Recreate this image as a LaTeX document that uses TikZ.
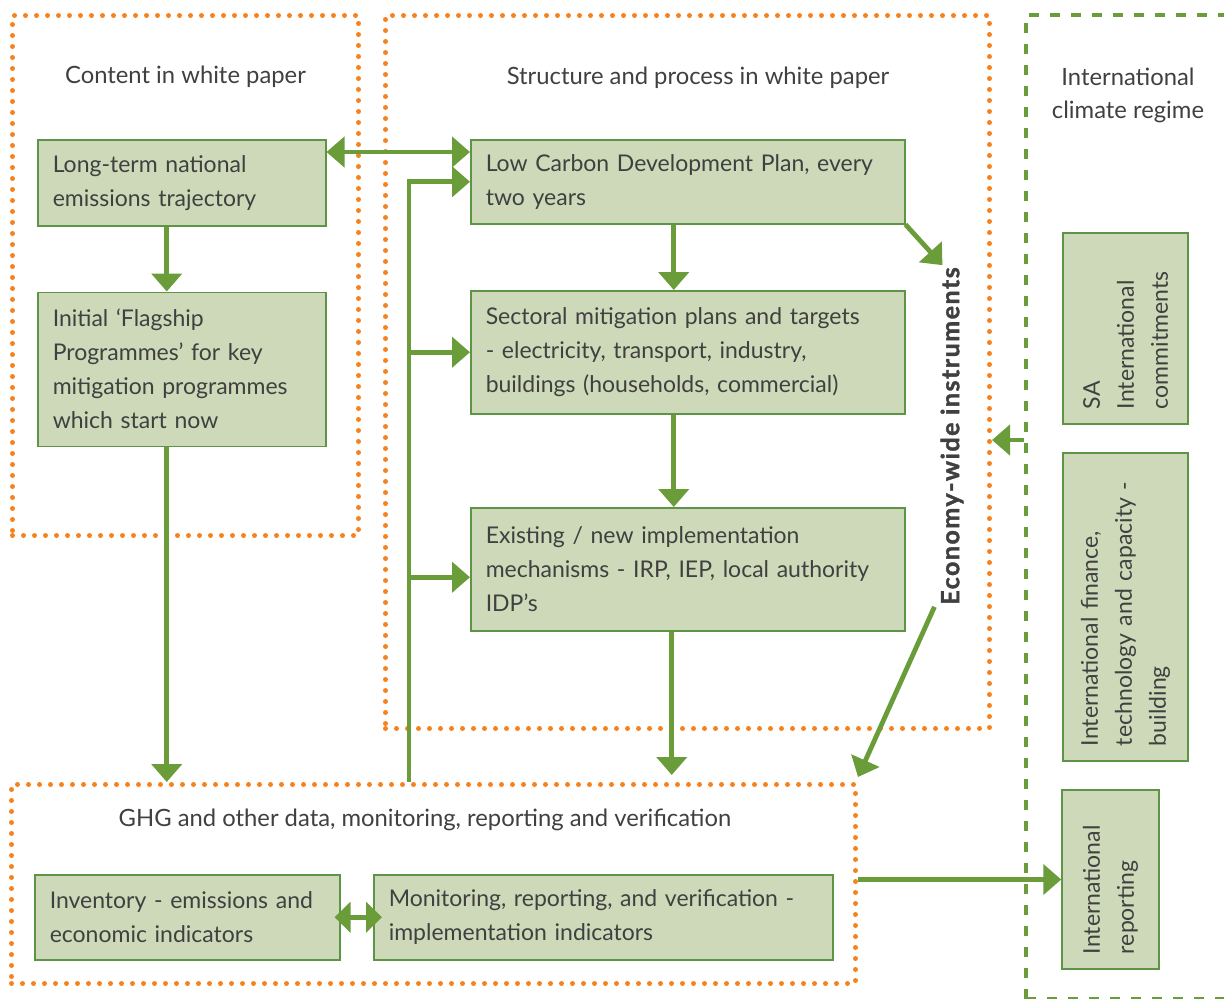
\documentclass[tikz,border=0pt]{standalone}
\usepackage{fontspec}
\setmainfont{Lato}
\usetikzlibrary{arrows.meta,positioning,calc}

\definecolor{flowgreen}{HTML}{6A9C3A}
\definecolor{boxfill}{HTML}{CDD9B8}
\definecolor{boxline}{HTML}{5E9446}
\definecolor{dotorange}{HTML}{F5821F}
\definecolor{ink}{HTML}{404040}

\begin{document}
\begin{tikzpicture}[x=1pt, y=-1pt, node distance=5mm,
    >={Triangle[width=30pt,length=18pt]},
    every node/.style={text=ink, font=\fontsize{23}{34}\selectfont},
    title/.style={font=\fontsize{23.8}{33}\selectfont},
    dotframe/.style={draw=dotorange, line width=5pt, line cap=round, dash pattern=on 0pt off 11pt, anchor=north west, inner sep=0pt},
    gbox/.style={draw=boxline, line width=1.5pt, fill=boxfill, align=left, inner xsep=15pt, inner ysep=0pt},
    flow/.style={draw=flowgreen, line width=4.8pt}]
    \useasboundingbox (0,0) rectangle (1224,999);
    % Frames
    \node[dotframe, minimum width=346pt, minimum height=520pt] (contentframe) at (10,13) {};
    \node[dotframe, minimum width=604pt, minimum height=713pt] (structframe) at (383,13) {};
    \node[dotframe, minimum width=844pt, minimum height=199pt] (ghgframe) at (9,782) {};
    \node[draw=flowgreen, line width=3.5pt, dash pattern=on 10pt off 11pt, anchor=north west, minimum width=260pt, minimum height=984pt] (regime) at (1024,13) {};
    \node[title, below=49pt of contentframe.north] (contenttitle) {Content in white paper};
    \node[title] (structtitle) at (698,78) {Structure and process in white paper};
    \node[title, align=center] (regimetitle) at (1128,95) {International\\climate regime};
    \node[title] (ghgtitle) at (425,820) {GHG and other data, monitoring, reporting and verification};
    % Boxes
    \node[gbox, anchor=north west, text width=258pt, minimum height=86pt] (longterm) at (37,139) {Long-term national\\emissions trajectory};
    \node[gbox, below=65pt of longterm.south west, anchor=north west, text width=258pt, minimum height=154pt] (flagship) {Initial ‘Flagship\\Programmes’ for key\\mitigation programmes\\which start now};
    \node[gbox, anchor=north west, text width=404pt, minimum height=84pt] (lowcarbon) at (470,139) {Low Carbon Development Plan, every\\two years};
    \node[gbox, anchor=north west, text width=404pt, minimum height=123pt] (sectoral) at (470,290) {Sectoral mitigation plans and targets\\- electricity, transport, industry,\\buildings (households, commercial)};
    \node[gbox, anchor=north west, text width=404pt, minimum height=123pt] (existing) at (470,507) {Existing / new implementation\\mechanisms - IRP, IEP, local authority\\IDP’s};
    \node[gbox, anchor=north west, text width=275pt, minimum height=85pt] (inventory) at (34,874) {Inventory - emissions and\\economic indicators};
    \node[gbox, anchor=north west, text width=429pt, minimum height=85pt] (monitoring) at (373,874) {Monitoring, reporting, and verification -\\implementation indicators};
    % International side, read bottom to top
    \node[gbox, rotate=90, text width=161pt, minimum height=125pt] (commitments) at (1125.5,328.5) {SA\\International\\commitments};
    \node[gbox, rotate=90, text width=278pt, minimum height=125pt] (finance) at (1125.5,607) {International finance,\\technology and capacity -\\building};
    \node[gbox, rotate=90, text width=149pt, minimum height=97pt] (reporting) at (1110.5,879.5) {International\\reporting};
    \node[rotate=90, inner sep=2pt, font=\fontsize{25}{30}\selectfont\bfseries\addfontfeature{LetterSpace=6,FakeBold=1.5}] (econ) at (952,436) {Economy-wide instruments};
    % Arrows
    \draw[flow, <->] ([yshift=-13pt]longterm.north east) -- ([yshift=-13pt]lowcarbon.north west);
    \draw[flow, ->] ([xshift=-15pt]longterm.south) -- ([xshift=-15pt]flagship.north);
    \draw[flow, ->] ([xshift=-15pt]flagship.south) -- ([xshift=-15pt]flagship.south |- ghgframe.north);
    \coordinate (spine) at (409,782);
    \draw[flow, ->] (spine) |- (lowcarbon.west);
    \draw[flow, ->] (spine |- sectoral.west) -- (sectoral.west);
    \draw[flow, ->] ([yshift=-8pt]spine |- existing.west) -- ([yshift=-8pt]existing.west);
    \draw[flow, ->] ([xshift=-14pt]lowcarbon.south) -- ([xshift=-14pt]sectoral.north);
    \draw[flow, ->] ([xshift=-14pt]sectoral.south) -- ([xshift=-14pt]existing.north);
    \draw[flow, ->] ([xshift=-16pt]existing.south) -- ([xshift=-16pt,yshift=7pt]existing.south |- ghgframe.north);
    \draw[flow, ->] (lowcarbon.south east) -- ([xshift=4pt]econ.north east);
    \draw[flow, ->] ([xshift=-4pt]econ.north west) -- ([yshift=5pt]ghgframe.north east);
    \coordinate (inlet) at (1024,440);
    \draw[flow, ->] (inlet) -- (inlet -| structframe.east);
    \draw[flow, ->] (ghgframe.east |- reporting.north) -- (reporting.north);
    \draw[flow, {Triangle[width=30pt,length=16pt]}-{Triangle[width=30pt,length=16pt]}] ([xshift=-6pt]inventory.east) -- ([xshift=9pt]monitoring.west);
\end{tikzpicture}
\end{document}
